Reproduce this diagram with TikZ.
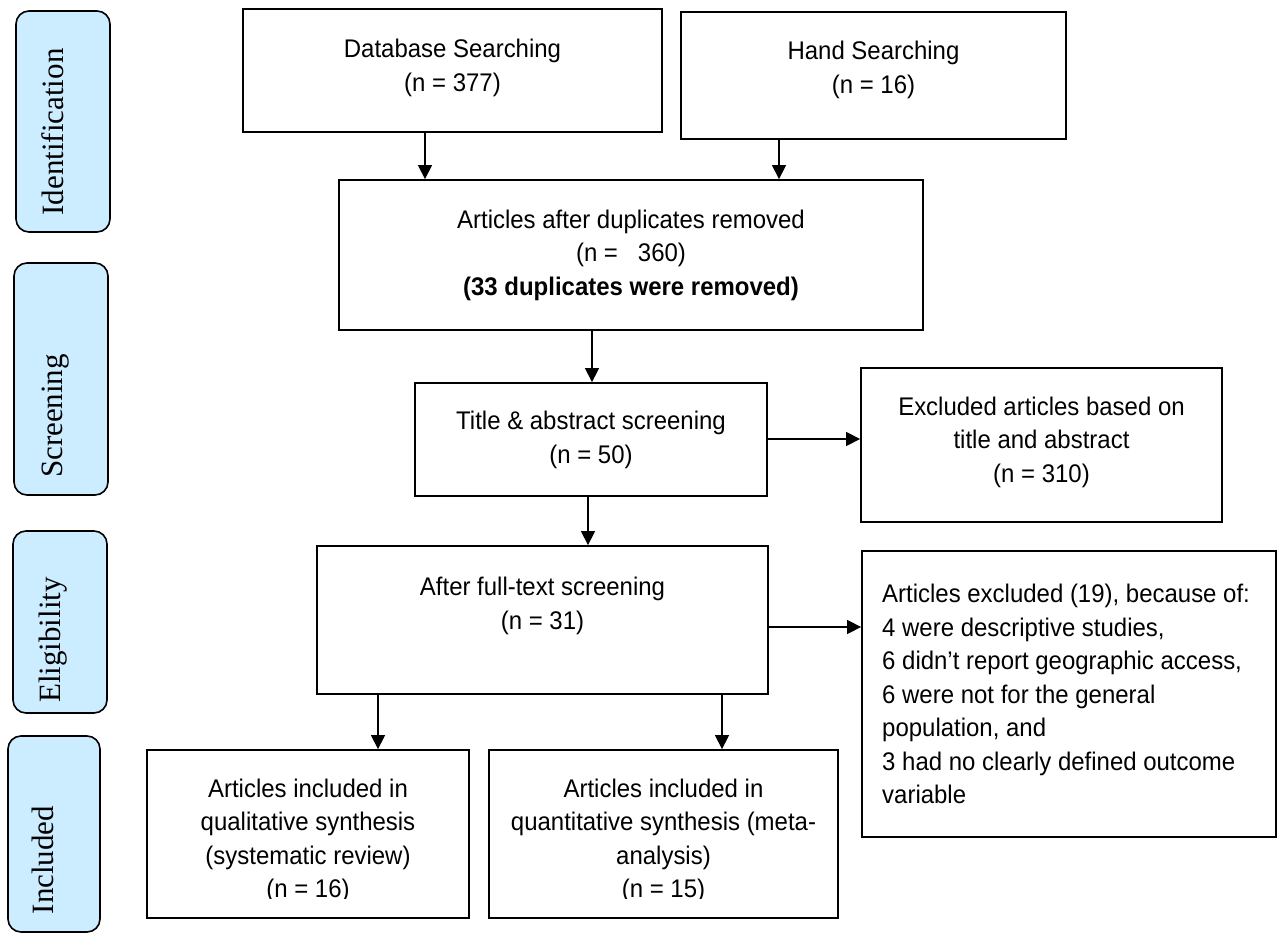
\documentclass[tikz,border=0pt]{standalone}
\usepackage{fontspec}
\setmainfont{Liberation Sans}[FakeStretch=0.94]
\newfontfamily\sidefont{Liberation Serif}
\usetikzlibrary{arrows.meta}
\definecolor{sideblue}{RGB}{204,236,255}
\begin{document}
\begin{tikzpicture}[x=1pt,y=-1pt,
  box/.style={draw=black, line width=1.8pt, rectangle, inner sep=0pt, fill=white},
  side/.style={draw=black, line width=1.6pt, fill=sideblue, rounded corners=13pt, inner sep=0pt},
  sidetext/.style={font=\sidefont\fontsize{31}{31}\selectfont, rotate=90, anchor=base, inner sep=0pt},
  txt/.style={font=\fontsize{25.5}{33.5}\selectfont, align=center, inner sep=0pt},
  arr/.style={line width=1.3pt, -{Triangle[width=14pt,length=14pt]}}]

\useasboundingbox (0,0) rectangle (1280,933);

% side labels
\node[side, minimum width=94pt, minimum height=221pt] (sid) at (63,121.5) {};
\node[side, minimum width=94pt, minimum height=232pt] (sscr) at (61,379) {};
\node[side, minimum width=94pt, minimum height=182pt] (selg) at (60,622) {};
\node[side, minimum width=92pt, minimum height=196pt] (sinc) at (54,834) {};
\node[sidetext] (tid) at (63,132) {Identification};
\node[sidetext] (tscr) at (62,416) {Screening};
\node[sidetext] (telg) at (60,640) {Eligibility};
\node[sidetext] (tinc) at (53,860) {Included};

% boxes
\node[box, minimum width=419pt, minimum height=123pt] (db) at (452.5,70.5) {};
\node[box, minimum width=385pt, minimum height=127pt] (hand) at (873.5,75.5) {};
\node[box, minimum width=584pt, minimum height=150pt] (dup) at (631,255) {};
\node[box, minimum width=352pt, minimum height=113pt] (title) at (591,439.5) {};
\node[box, minimum width=361pt, minimum height=154pt] (excl) at (1041.5,445) {};
\node[box, minimum width=451pt, minimum height=148pt] (full) at (542.5,620) {};
\node[box, minimum width=414pt, minimum height=286pt] (excl2) at (1069,694) {};
\node[box, minimum width=322pt, minimum height=168pt] (qual) at (308,834) {};
\node[box, minimum width=349pt, minimum height=168pt] (quant) at (663.5,834) {};

% texts
\node[txt] (dbt) at (452.5,68) {Database Searching\\(n = 377)};
\node[txt] (handt) at (873.5,70) {Hand Searching\\(n = 16)};
\node[txt] (dupt) at (631,255) {Articles after duplicates removed\\(n = \ \ 360)\\\textbf{(33 duplicates were removed)}};
\node[txt] (titlet) at (591,440) {Title \& abstract screening\\(n = 50)};
\node[txt] (exclt) at (1041.5,442) {Excluded articles based on\\title and abstract\\(n = 310)};
\node[txt] (fullt) at (542.5,606) {After full-text screening\\(n = 31)};
\node[txt, align=left, anchor=west] (excl2t) at (882,694) {Articles excluded (19), because of:\\4 were descriptive studies,\\6 didn’t report geographic access,\\6 were not for the general\\population, and\\3 had no clearly defined outcome\\variable};
\begin{scope}
\clip (0,0) rectangle (1280,898);
\node[txt] (qualt) at (308,841) {Articles included in\\qualitative synthesis\\(systematic review)\\(n = 16)};
\node[txt] (quantt) at (663.5,841) {Articles included in\\quantitative synthesis (meta-\\analysis)\\(n = 15)};
\end{scope}

% arrow guide coordinates
\coordinate (x1) at (425,0);
\coordinate (x2) at (779,0);
\coordinate (x3) at (592,0);
\coordinate (x4) at (588,0);
\coordinate (x5) at (378,0);
\coordinate (x6) at (722,0);
\coordinate (y1) at (0,439);
\coordinate (y2) at (0,627);

\draw[arr] (x1 |- db.south) -- (x1 |- dup.north);
\draw[arr] (x2 |- hand.south) -- (x2 |- dup.north);
\draw[arr] (x3 |- dup.south) -- (x3 |- title.north);
\draw[arr] (x4 |- title.south) -- (x4 |- full.north);
\draw[arr] (title.east |- y1) -- (excl.west |- y1);
\draw[arr] (full.east |- y2) -- (excl2.west |- y2);
\draw[arr] (x5 |- full.south) -- (x5 |- qual.north);
\draw[arr] (x6 |- full.south) -- (x6 |- quant.north);
\end{tikzpicture}
\end{document}
